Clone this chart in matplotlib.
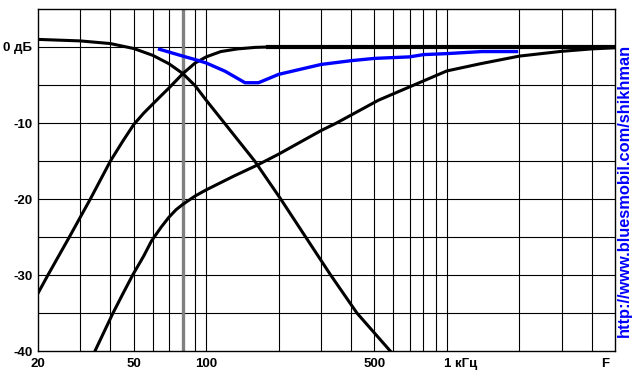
import numpy as np
import matplotlib
matplotlib.use("Agg")
from matplotlib import pyplot as plt
from matplotlib.transforms import offset_copy

# curves (frequency in Hz, level in dB)
lp_freq = [20, 30, 40, 50, 60, 70, 80, 90, 100, 119, 159, 204, 259, 329, 423, 582]
lp_db = [1.0, 0.8, 0.45, -0.2, -1.1, -2.2, -3.5, -5.1, -7.0, -10, -15, -20, -25, -30, -35, -40]

hp_freq = [20, 22, 27, 33, 40, 45, 50, 55, 60, 65, 70, 80, 90, 100, 115, 135, 160, 180, 5000]
hp_db = [-32.4, -30, -25, -20, -15, -12.4, -10.2, -8.7, -7.5, -6.4, -5.4, -3.5, -2.1, -1.3, -0.6, -0.25, -0.05, 0, 0]

hp2_freq = [34.5, 41, 45, 49.5, 55, 59.3, 65, 70, 75, 80, 90, 100, 130, 164, 200, 300, 348, 520, 706, 1000, 1380, 2000, 3000, 4000, 5000]
hp2_db = [-40, -35, -32.5, -30, -27.5, -25.5, -23.7, -22.4, -21.4, -20.7, -19.6, -18.8, -17.0, -15.5, -14.1, -11.0, -10, -7.0, -5.2, -3.15, -2.2, -1.2, -0.57, -0.25, -0.1]

sum_freq = [64, 80, 91, 100, 120, 145, 165, 200, 300, 400, 500, 700, 800, 1000, 1400, 1950]
sum_db = [-0.3, -1.2, -1.7, -2.1, -3.2, -4.7, -4.7, -3.6, -2.3, -1.8, -1.5, -1.3, -1.0, -0.87, -0.6, -0.6]

crossover = 80

x_grid = [30, 40, 50, 60, 70, 90, 100, 200, 300, 400, 500, 600, 700, 800, 900, 1000, 2000, 3000, 4000]
x_ticks = [20, 50, 100, 500, 1000, 5000]
x_labels = ["20", "50", "100", "500", "1 кГц", "F"]
y_ticks = [0, -10, -20, -30, -40]
y_labels = ["0 дБ", "-10", "-20", "-30", "-40"]

plt.rcParams['font.family'] = ['Liberation Sans', 'DejaVu Sans']

fig = plt.figure(figsize=(6.4, 3.8), dpi=100)
ax = fig.add_axes([38 / 640, 29 / 380, 577 / 640, 342 / 380])
ax.set_xscale('log')
ax.set_xlim(20, 5000)
ax.set_ylim(-40, 5)

for f in x_grid:
    ax.axvline(f, color='black', lw=0.8, zorder=1)
for d in np.arange(-35, 5, 5):
    ax.axhline(d, color='black', lw=0.8, zorder=1)
ax.axvline(crossover, color='#808080', lw=2.4, zorder=2)

ax.plot(lp_freq, lp_db, color='black', lw=2.2, zorder=3)
ax.plot(hp_freq, hp_db, color='black', lw=2.2, zorder=3)
flat = np.array(hp_db) == 0
ax.plot(np.array(hp_freq)[flat], np.array(hp_db)[flat], color='black', lw=3.0, zorder=3)
ax.plot(hp2_freq, hp2_db, color='black', lw=2.2, zorder=3)
ax.plot(sum_freq, sum_db, color='#0000ff', lw=2.4, zorder=4)

for s in ax.spines.values():
    s.set_linewidth(1.0)
ax.tick_params(length=0)
ax.set_xticks([])
ax.set_xticks([], minor=True)
ax.set_yticks(y_ticks)
ax.set_yticklabels(y_labels, fontsize=9.5, fontweight='bold')
ax.tick_params(axis='y', pad=4)

trans = ax.get_xaxis_transform()
for f, lab in zip(x_ticks, x_labels):
    ha = 'center'
    dx = 0
    if lab.startswith('1 '):
        ha, dx = 'left', -3
    if lab == 'F':
        dx = -10
    t = offset_copy(trans, fig=fig, x=dx, y=-7, units='dots')
    ax.text(f, 0, lab, transform=t, ha=ha, va='top', fontsize=9.5, fontweight='bold')

fig.text(624 / 640, 190 / 380, "http://www.bluesmobil.com/shikhman", rotation=90,
         ha='center', va='center', color='#0000ff', fontsize=11.8, fontweight='bold')

fig.savefig('out.png', dpi=100)
